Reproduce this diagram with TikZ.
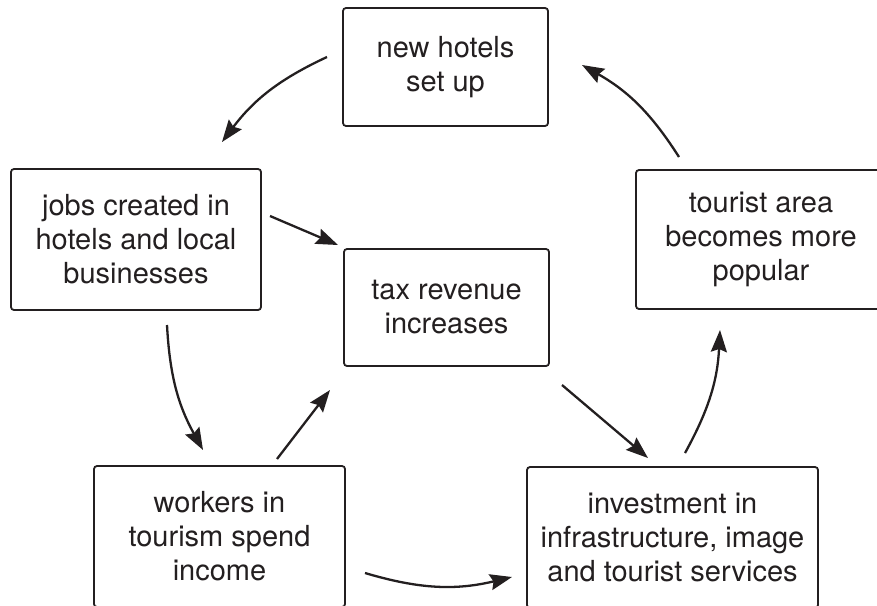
\documentclass[tikz,border=0pt]{standalone}
\usepackage{fontspec}
\setmainfont{TeX Gyre Heros}
\usetikzlibrary{arrows.meta}
\definecolor{ink}{HTML}{231F20}
\begin{document}
\begin{tikzpicture}[x=1pt,y=-1pt,
  box/.style={draw=ink, line width=1.8pt, rounded corners=3pt, align=center,
    inner sep=0pt, text=ink, font=\fontsize{29}{34}\selectfont},
  arr/.style={draw=ink, line width=2.3pt,
    -{Stealth[length=22pt,width=16pt,inset=3pt]}}]
\useasboundingbox (0,0) rectangle (877,605);
\clip (0,0) rectangle (877,605);
\node[box, minimum width=205pt, minimum height=118pt] (hotels) at (445.5,67) {new hotels\\set up};
\node[box, minimum width=250pt, minimum height=141pt] (jobs) at (136,239.5) {jobs created in\\hotels and local\\businesses};
\node[box, minimum width=205pt, minimum height=117pt] (tax) at (446.5,307.5) {tax revenue\\increases};
\node[box, minimum width=250pt, minimum height=139pt] (popular) at (761,239.5) {tourist area\\becomes more\\popular};
\node[box, minimum width=251pt, minimum height=141pt] (workers) at (219.5,536.5) {workers in\\tourism spend\\income};
\node[box, minimum width=291pt, minimum height=141pt] (invest) at (672.5,537.5) {investment in\\infrastructure, image\\and tourist services};
% arrow end points
\coordinate (a1s) at (327,57);  \coordinate (a1e) at (222,142);
\coordinate (a2s) at (270,216); \coordinate (a2e) at (338,245);
\coordinate (a3s) at (167,325); \coordinate (a3e) at (203,450);
\coordinate (a4s) at (277,459); \coordinate (a4e) at (330,390);
\coordinate (a5s) at (562,385); \coordinate (a5e) at (648,458);
\coordinate (a6s) at (365,573); \coordinate (a6e) at (512,577);
\coordinate (a7s) at (685,453); \coordinate (a7e) at (720,330);
\coordinate (a8s) at (679,157); \coordinate (a8e) at (582,65);
\draw[arr] (a1s) to[bend right=14] (a1e);
\draw[arr] (a2s) -- (a2e);
\draw[arr] (a3s) to[bend right=13] (a3e);
\draw[arr] (a4s) -- (a4e);
\draw[arr] (a5s) -- (a5e);
\draw[arr] (a6s) to[bend right=15] (a6e);
\draw[arr] (a7s) to[bend right=13] (a7e);
\draw[arr] (a8s) to[bend right=14] (a8e);
\end{tikzpicture}
\end{document}
